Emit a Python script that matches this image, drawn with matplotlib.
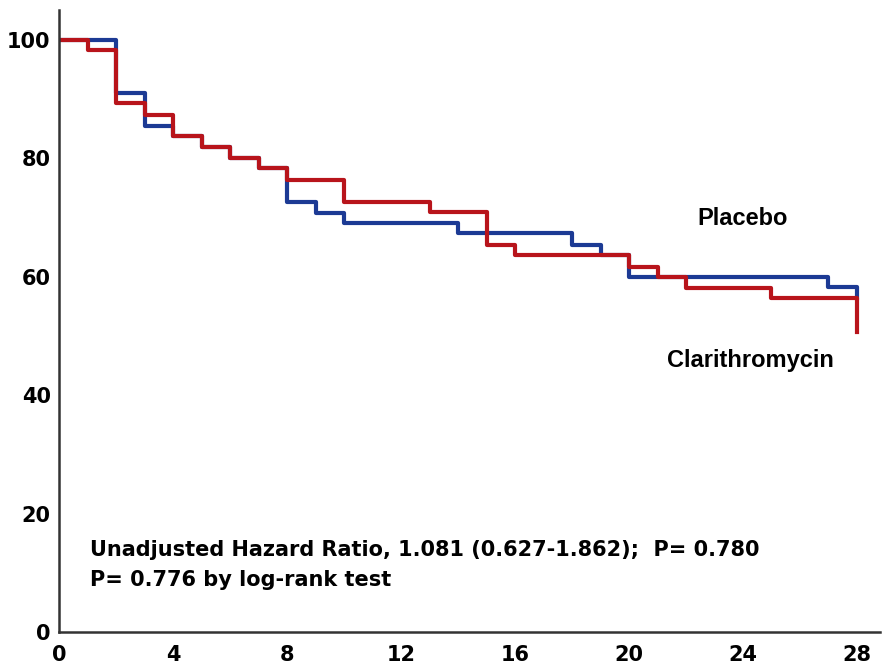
import numpy as np
import matplotlib
matplotlib.use("Agg")
import matplotlib.pyplot as plt

plt.rcParams['font.family'] = ['Liberation Sans', 'DejaVu Sans']

# Kaplan-Meier steps (day, % surviving)
placebo_t = [0, 2, 3, 4, 5, 6, 7, 8, 9, 10, 14, 18, 19, 20, 27, 28]
placebo_s = [100, 91.0, 85.4, 83.7, 81.9, 80.0, 78.3, 72.7, 70.8, 69.1,
             67.3, 65.4, 63.6, 60.0, 58.2, 56.4]

clari_t = [0, 1, 2, 3, 4, 5, 6, 7, 8, 10, 13, 15, 16, 20, 21, 22, 25, 28]
clari_s = [100, 98.3, 89.3, 87.3, 83.7, 81.9, 80.0, 78.3, 76.3, 72.7,
           71.0, 65.3, 63.6, 61.7, 60.0, 58.1, 56.4, 50.7]

x_ticks = [0, 4, 8, 12, 16, 20, 24, 28]
y_ticks = [0, 20, 40, 60, 80, 100]

fig = plt.figure(figsize=(8.86, 6.65), dpi=100)
ax = fig.add_axes([0.0666, 0.0496, 0.9264, 0.935])

ax.step(placebo_t, placebo_s, where='post', color='#1c3a94', lw=3.0)
ax.step(clari_t, clari_s, where='post', color='#b8141b', lw=3.0)

ax.set_xlim(0, 28.8)
ax.set_ylim(0, 105)
ax.set_xticks(x_ticks)
ax.set_yticks(y_ticks)
ax.tick_params(length=0)
ax.tick_params(axis='y', pad=6)
ax.tick_params(axis='x', pad=9)
for lab in ax.get_xticklabels() + ax.get_yticklabels():
    lab.set_fontweight('bold')
    lab.set_fontfamily('DejaVu Sans')
    lab.set_fontsize(15)

for s in ['top', 'right']:
    ax.spines[s].set_visible(False)
for s in ['left', 'bottom']:
    ax.spines[s].set_linewidth(1.8)
    ax.spines[s].set_color('#333333')

ax.text(24.0, 69.9, 'Placebo', fontsize=17, fontweight='bold',
        ha='center', va='center')
ax.text(24.25, 45.9, 'Clarithromycin', fontsize=17, fontweight='bold',
        ha='center', va='center')
ax.text(1.08, 13.9, 'Unadjusted Hazard Ratio, 1.081 (0.627-1.862);  P= 0.780',
        fontsize=15, fontweight='bold', family='DejaVu Sans',
        ha='left', va='center')
ax.text(1.08, 8.8, 'P= 0.776 by log-rank test',
        fontsize=15, fontweight='bold', family='DejaVu Sans',
        ha='left', va='center')

plt.savefig('out.png', dpi=100)
plt.close()
